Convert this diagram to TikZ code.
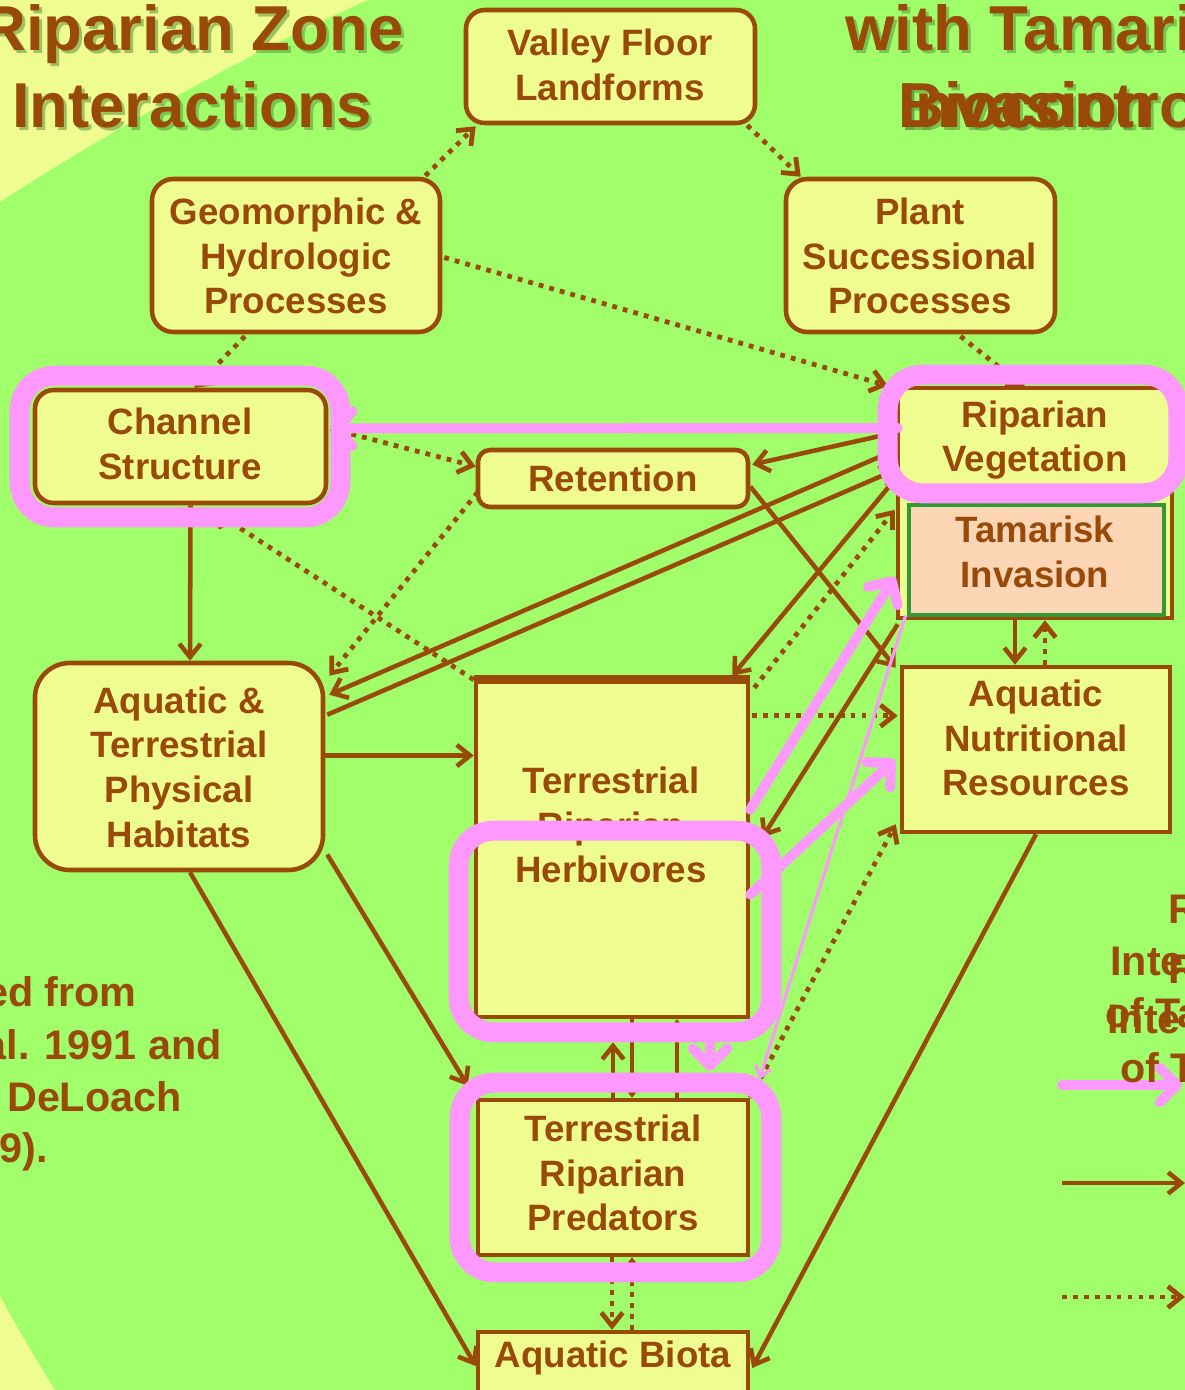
\documentclass[tikz,border=0pt]{standalone}
\usepackage{fontspec}
\setmainfont{Liberation Sans}
\usetikzlibrary{arrows.meta,calc}

\definecolor{brn}{RGB}{153,74,8}
\definecolor{boxfill}{RGB}{238,252,144}
\definecolor{bggreen}{RGB}{160,255,106}
\definecolor{bgyellow}{RGB}{238,252,144}
\definecolor{hlpink}{RGB}{255,153,255}
\definecolor{tamfill}{RGB}{252,213,181}
\definecolor{tamedge}{RGB}{51,153,51}
\definecolor{shadowgreen}{RGB}{92,146,54}

\begin{document}
\begin{tikzpicture}[x=0.75pt,y=-0.75pt,
  wh/.style 2 args={minimum width=#1*0.75pt, minimum height=#2*0.75pt},
  rbox/.style={draw=brn, fill=boxfill, line width=3.4pt, rounded corners=#1, inner sep=0pt},
  rbox/.default=12pt,
  sbox/.style={draw=brn, fill=boxfill, line width=3.4pt, inner sep=0pt},
  lbl/.style={text=brn, font=\bfseries\fontsize{27.5}{33.5}\selectfont, align=center, inner sep=0pt},
  note/.style={text=brn, font=\bfseries\fontsize{31}{38}\selectfont, inner sep=0pt},
  ttl/.style={text=brn, font=\bfseries\fontsize{47.6}{57}\selectfont, inner sep=0pt},
  tshadow/.style={ttl, text=shadowgreen, opacity=0.55},
  hl/.style={draw=hlpink, line width=15pt, rounded corners=26pt},
  flow/.style={draw=brn, line width=3.4pt, -{Straight Barb[length=10pt,width=16pt]}},
  dots/.style={line width=3.6pt, dash pattern=on 3.6pt off 4.6pt},
  pflow/.style={draw=hlpink, line width=7.5pt, line cap=round, -{Straight Barb[length=13pt,width=26pt,round]}},
  pthin/.style={draw=hlpink, line width=2.4pt, -{Straight Barb[length=8pt,width=12pt]}}
]
\useasboundingbox (0,0) rectangle (1185,1390);

% background: pale corners around a large green field
\fill[bgyellow] (0,0) rectangle (1185,1390);
\fill[bggreen] (0,202) .. controls (120,125) and (245,55) .. (368,0) -- (1185,0)
  -- (1185,1390) -- (55,1390) .. controls (38,1362) and (18,1330) .. (0,1295) -- cycle;

% boxes
\node[rbox=14pt, wh={289}{113}] (valley) at (610.5,66.5) {};
\node[rbox=16pt, wh={288}{153}] (geo) at (296,255.5) {};
\node[rbox=16pt, wh={269}{153}] (plant) at (920.5,255.5) {};
\node[rbox=14pt, wh={291}{113}] (channel) at (180.5,446.5) {};
\node[rbox=9pt, wh={270}{57}] (retention) at (613,478.5) {};
\node[sbox, wh={274}{230}] (rvframe) at (1035,503) {};
\node[inner sep=0pt, wh={274}{112}] (ripveg) at (1035,444) {};
\node[draw=tamedge, fill=tamfill, line width=3.6pt, inner sep=0pt, wh={255}{110}] (tam) at (1036.5,560) {};
\node[rbox=26pt, wh={288}{207}] (habitat) at (179,766.5) {};
\node[sbox, wh={272}{335}] (herb) at (612,849.5) {};
\node[sbox, wh={268}{165}] (anr) at (1036,749.5) {};
\node[sbox, wh={270}{155}] (pred) at (613,1177.5) {};
\node[sbox, wh={270}{60}] (biota) at (613,1362) {};
\draw[brn, line width=6.75pt] (herb.north west) -- (herb.north east);

% brown dotted influences
\draw[flow,dots] ([shift={(-17,-1)}]geo.north east) -- ([shift={(12,1)}]valley.south west);
\draw[flow,dots] ([shift={(-10,0)}]valley.south east) -- ([shift={(17,0)}]plant.north west);
\draw[flow,dots] ([shift={(2,2)}]geo.east) -- ([shift={(-10,-2)}]ripveg.north west);
\draw[flow,dots] ([shift={(40,2)}]plant.south) -- ([shift={(-10,0)}]ripveg.north);
\draw[flow,dots] ([shift={(-51,2)}]geo.south) -- ([shift={(14,0)}]channel.north);
\draw[flow,dots] ([shift={(2,-18)}]channel.east) -- ([shift={(0,-12)}]retention.west);
\draw[flow,dots] ([shift={(2,-17)}]retention.south west) -- ([shift={(4,15)}]habitat.north east);
\draw[flow,dots] (herb.north west) -- ([shift={(32,5)}]channel.south);
\draw[flow,dots] ([shift={(2,36)}]herb.north east) -- ([shift={(-2,51)}]anr.north west);
\draw[flow,dots] ([shift={(4,8)}]herb.north east) -- ([shift={(-1,124)}]rvframe.north west);
\draw[flow,dots] (pred.north east) -- ([shift={(-4,-10)}]anr.south west);
\draw[flow,dots] ([shift={(9,0)}]anr.north) -- ([shift={(10,0)}]rvframe.south);
\draw[flow,dots] ([shift={(-1,0)}]pred.south) -- ([shift={(-1,0)}]biota.north);
\draw[flow,dots] ([shift={(19,0)}]biota.north) -- ([shift={(19,0)}]pred.south);

% brown solid influences
\draw[flow] ([shift={(10,0)}]channel.south) -- ([shift={(11,0)}]habitat.north);
\draw[flow] ([shift={(0,-11)}]habitat.east) -- ([shift={(0,-94)}]herb.west);
\draw[flow] ([shift={(0,-12)}]ripveg.west) -- ([shift={(2,-14)}]retention.east);
\draw[flow] ([shift={(0,5)}]ripveg.west) -- ([shift={(4,34)}]habitat.north east);
\draw[flow] ([shift={(2,54)}]habitat.north east) -- ([shift={(0,25)}]ripveg.west);
\draw[flow] ([shift={(0,32)}]ripveg.west) -- ([shift={(-18,-4)}]herb.north east);
\draw[flow] ([shift={(0,8)}]retention.east) -- ([shift={(-4,3)}]anr.north west);
\draw[flow] ([shift={(2,4)}]rvframe.south west) -- ([shift={(12,-12)}]herb.east);
\draw[flow] ([shift={(2,88)}]habitat.east) -- ([shift={(-8,-12)}]pred.north west);
\draw[flow] ([shift={(11,0)}]habitat.south) -- ([shift={(0,4)}]biota.west);
\draw[flow] (anr.south) -- ([shift={(2,6)}]biota.east);
\draw[flow] ([shift={(-20,0)}]rvframe.south) -- ([shift={(-21,0)}]anr.north);
\draw[flow] (pred.north) -- ([shift={(1,23)}]herb.south);
\draw[flow] ([shift={(20,0)}]herb.south) -- ([shift={(19,0)}]pred.north);
\draw[flow] ([shift={(64,0)}]pred.north) -- ([shift={(65,0)}]herb.south);

% box texts
\node[lbl] (valleyt) at (610,65) {Valley Floor\\Landforms};
\node[lbl] (geot) at (296,256) {Geomorphic \&\\Hydrologic\\Processes};
\node[lbl] (plantt) at (920,256) {Plant\\Successional\\Processes};
\node[lbl] (channelt) at (180,444) {Channel\\Structure};
\node[lbl] (retentiont) at (613,478) {Retention};
\node[lbl] (ripvegt) at (1035,440) {Riparian\\Vegetation};
\node[lbl] (tamt) at (1035,552) {Tamarisk\\Invasion};
\node[lbl] (habitatt) at (179,767) {Aquatic \&\\Terrestrial\\Physical\\Habitats};
\node[lbl] (herbt) at (611,825) {Terrestrial\\Riparian\\Herbivores};
\node[lbl] (anrt) at (1036,738) {Aquatic\\Nutritional\\Resources};
\node[lbl] (predt) at (613,1173) {Terrestrial\\Riparian\\Predators};
\node[lbl] (biotat) at (613,1358) {Aquatic Biota};

% pink highlight frames
\draw[hl] ([shift={(-13,-12)}]channel.north west) rectangle ([shift={(12,12)}]channel.south east);
\draw[hl] ([shift={(-10,-13)}]ripveg.north west) rectangle ([shift={(6,-7)}]ripveg.south east);
\draw[hl] ([shift={(-15,151)}]herb.north west) rectangle ([shift={(21,13)}]herb.south east);
\draw[hl] ([shift={(-16,-15)}]pred.north west) rectangle ([shift={(21,15)}]pred.south east);

% pink influences
\draw[pflow] ([shift={(0,-16)}]ripveg.west) -- ([shift={(2,-18)}]channel.east);
\draw[pflow] ([shift={(0,-40)}]herb.east) -- ([shift={(-12,17)}]tam.west);
\draw[pflow] ([shift={(0,45)}]herb.east) -- ([shift={(-5,10)}]anr.west);
\draw[pthin] ([shift={(-1,-2)}]tam.south west) -- ([shift={(9,-18)}]pred.north east);
\draw[pflow] ([shift={(98,13)}]herb.south) -- ([shift={(97,-27)}]pred.north);

% legend arrows
\coordinate (lgA1) at (1062,1085); \coordinate (lgA2) at (1182,1085);
\coordinate (lgB1) at (1062,1183); \coordinate (lgB2) at (1185,1183);
\coordinate (lgC1) at (1062,1297); \coordinate (lgC2) at (1185,1297);
\draw[pflow] (lgA1) -- (lgA2);
\draw[flow] (lgB1) -- (lgB2);
\draw[flow,dots] (lgC1) -- (lgC2);

% side texts
\node[note, anchor=base east] (n1) at (137,1006) {ed from};
\node[note, anchor=base east] (n2) at (222,1059) {al. 1991 and};
\node[note, anchor=base east] (n3) at (182,1111) {DeLoach};
\node[note, anchor=base east] (n4) at (48,1162) {9).};
\node[note, anchor=base west] (r1) at (1168,923) {R};
\node[note, anchor=base west] (r2) at (1110,975) {Inte};
\node[note, anchor=base west] (r3) at (1105,1027) {of Ta};
\node[note, anchor=base west] (r4) at (1168,983) {R};
\node[note, anchor=base west] (r5) at (1107,1033) {Inte};
\node[note, anchor=base west] (r6) at (1120,1082) {of T};

% titles with soft drop shadow
\node[tshadow, anchor=base] (t1s) at (195,53) {Riparian Zone};
\node[tshadow, anchor=base] (t2s) at (195,130) {Interactions};
\node[tshadow, anchor=base west] (t3s) at (848,53) {with Tamari};
\node[tshadow, anchor=base west] (t4s) at (901,130) {Biocontro};
\node[tshadow, anchor=base west] (t5s) at (901,130) {Invasion};
\node[ttl, anchor=base] (t1) at (192,50) {Riparian Zone};
\node[ttl, anchor=base] (t2) at (192,127) {Interactions};
\node[ttl, anchor=base west] (t3) at (845,50) {with Tamari};
\node[ttl, anchor=base west] (t4) at (898,127) {Biocontro};
\node[ttl, anchor=base west] (t5) at (898,127) {Invasion};
\end{tikzpicture}
\end{document}
